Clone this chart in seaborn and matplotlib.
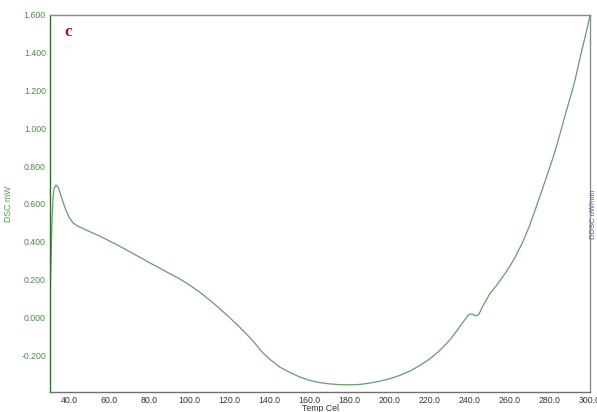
import pandas as pd
import numpy as np
import matplotlib
matplotlib.use("Agg")
import matplotlib.pyplot as plt
import seaborn as sns

# DSC curve (Temp in Cel, DSC in mW)
temp = [30.5, 31.0, 31.5, 32.0, 32.5, 33.5, 34.5, 35.5, 37.0, 38.5,
        40.0, 42.0, 44.0, 46.0, 50.0, 55.0, 60.0, 65.0, 70.0, 75.0,
        80.0, 85.0, 90.0, 95.0, 100.0, 105.0, 110.0, 115.0, 120.0, 125.0,
        130.0, 133.0, 136.0, 140.0, 145.0, 150.0, 155.0, 160.0, 165.0, 170.0,
        175.0, 180.0, 185.0, 190.0, 195.0, 200.0, 205.0, 210.0, 215.0, 220.0,
        225.0, 230.0, 234.0, 237.0, 239.5, 241.0, 243.0, 244.5, 246.5, 250.0,
        254.0, 258.0, 262.0, 266.5, 270.0, 273.0, 276.0, 279.0, 282.0, 285.0,
        288.0, 291.0, 292.5, 294.0, 295.5, 297.0, 299.0, 300.0]
dsc = [0.08, 0.30, 0.52, 0.63, 0.68, 0.70, 0.69, 0.66, 0.61, 0.565,
       0.53, 0.50, 0.485, 0.475, 0.455, 0.432, 0.405, 0.378, 0.349, 0.32,
       0.29, 0.262, 0.233, 0.205, 0.172, 0.135, 0.093, 0.048, 0.0, -0.05,
       -0.105, -0.14, -0.18, -0.22, -0.262, -0.29, -0.315, -0.333, -0.345, -0.352,
       -0.356, -0.357, -0.355, -0.348, -0.338, -0.325, -0.307, -0.285, -0.255, -0.22,
       -0.175, -0.12, -0.064, -0.02, 0.015, 0.018, 0.007, 0.015, 0.06, 0.125,
       0.178, 0.238, 0.305, 0.40, 0.49, 0.58, 0.672, 0.765, 0.86, 0.97,
       1.085, 1.195, 1.255, 1.325, 1.395, 1.46, 1.55, 1.6]

x_ticks = [40.0, 60.0, 80.0, 100.0, 120.0, 140.0, 160.0, 180.0,
           200.0, 220.0, 240.0, 260.0, 280.0, 300.0]
y_ticks = [-0.2, 0.0, 0.2, 0.4, 0.6, 0.8, 1.0, 1.2, 1.4, 1.6]

df = pd.DataFrame({"Temp": temp, "DSC": dsc})

sns.set_style("white")
plt.rcParams['font.family'] = ['Arial', 'Liberation Sans', 'DejaVu Sans']

fig = plt.figure(figsize=(5.97, 4.12), dpi=100)
ax = fig.add_axes([0.0838, 0.0485, 0.9045, 0.9151])

sns.lineplot(data=df, x="Temp", y="DSC", sort=False, ax=ax,
             color="#6b9a6b", linewidth=0.9)

ax.set_xlim(30.5, 300)
ax.set_ylim(-0.395, 1.6)
ax.set_xticks(x_ticks)
ax.set_yticks(y_ticks)
ax.set_xticklabels([f"{v:.1f}" for v in x_ticks], fontsize=6.3, color="#333333")
ax.set_yticklabels([f"{v:.3f}" for v in y_ticks], fontsize=6.3, color="#4a8a4a")
ax.tick_params(axis="x", direction="in", length=7, width=0.8, color="#444444", pad=3)
ax.tick_params(axis="y", direction="in", length=4, width=0.8, color="#3a6a3a", pad=3)

ax.set_xlabel("Temp Cel", fontsize=6.3, color="#333333", labelpad=-1)
ax.set_ylabel("DSC mW", fontsize=6.3, color="#4aa04a", labelpad=6)

ax.spines["left"].set_color("#2f6f2f")
ax.spines["bottom"].set_color("#707070")
ax.spines["top"].set_color("#8a8a8a")
ax.spines["right"].set_color("#8a8a8a")
for s in ax.spines.values():
    s.set_linewidth(1.0)

ax.text(0.026, 0.955, "c", transform=ax.transAxes, fontsize=12.5,
        fontweight="bold", family="Liberation Serif", color="#a01828",
        va="center", ha="left")

fig.text(0.994, 0.48, "DDSC uW/min", rotation=90, fontsize=5.5,
         color="#5a5ac0", ha="center", va="center")

fig.savefig("out.png", dpi=100)
